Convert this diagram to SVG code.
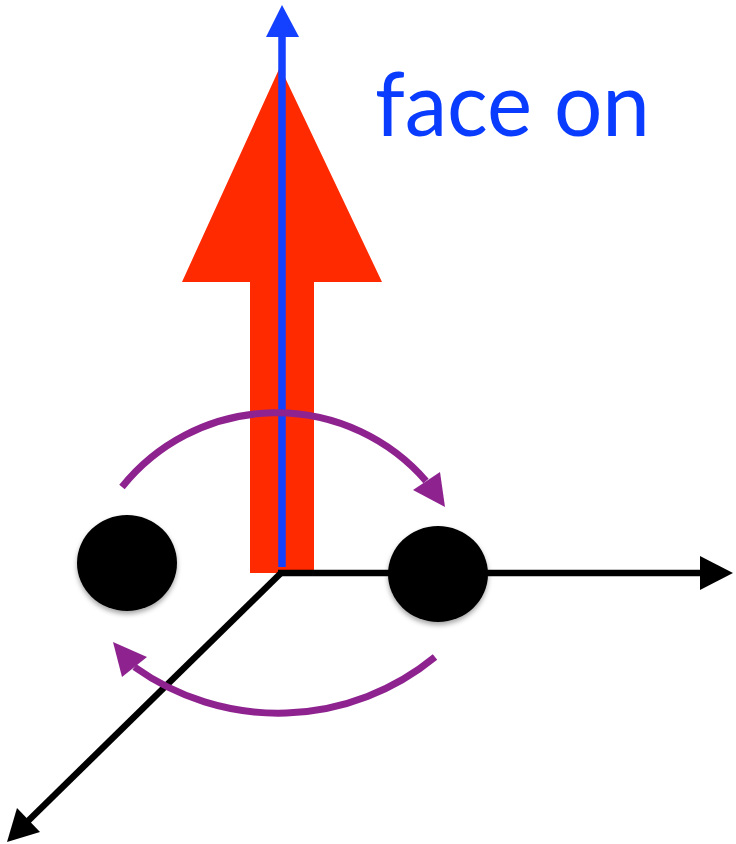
<svg xmlns="http://www.w3.org/2000/svg" width="736" height="844" viewBox="0 0 736 844">
  <style>
    .axis { stroke: #000; stroke-width: 6.5; fill: none; }
    .axis-head { fill: #000; }
    .spin { stroke: #8E2390; stroke-width: 7; fill: none; }
    .spin-head { fill: #8E2390; }
    .body { fill: #000; filter: url(#shadow); }
    .label { font-family: Lato, "Open Sans", "Liberation Sans", sans-serif; font-size: 90px; fill: #0A3CFF; }
  </style>
  <defs>
    <filter id="shadow" x="-20%" y="-20%" width="140%" height="150%">
      <feDropShadow dx="0" dy="3" stdDeviation="2.5" flood-color="#000" flood-opacity="0.35"/>
    </filter>
  </defs>

  <rect width="736" height="844" fill="#fff"/>

  <!-- angular momentum vector (thick red arrow) -->
  <g id="momentum">
    <polygon points="280,67 382,282 314,282 314,573 250,573 250,282 182,282" fill="#FF2A00"/>
  </g>

  <g id="connectors">
    <!-- coordinate axes -->
    <line class="axis" x1="278" y1="573" x2="702" y2="573"/>
    <polygon class="axis-head" points="733,573 700,556 700,590"/>
    <line class="axis" x1="281" y1="573" x2="27" y2="822"/>
    <polygon class="axis-head" points="7,842 40,832 17,808"/>

    <!-- line of sight (blue) -->
    <line x1="282" y1="567" x2="282" y2="34" stroke="#1440FF" stroke-width="7.5"/>
    <polygon points="282,5 266,37 299,37" fill="#1440FF"/>

    <!-- orbital motion -->
    <path class="spin" d="M122,487 A198,198 0 0 1 426,481"/>
    <polygon class="spin-head" points="445,507 413,490 440,472"/>
    <path class="spin" d="M435,657 A247,247 0 0 1 134.5,667"/>
    <polygon class="spin-head" points="113,642 122,677 147,657"/>
  </g>

  <g id="star-left">
    <ellipse class="body" cx="127" cy="563" rx="50" ry="48"/>
  </g>
  <g id="star-right">
    <ellipse class="body" cx="438" cy="574" rx="50" ry="48"/>
  </g>

  <g id="label">
    <text class="label" x="375" y="136" textLength="275" lengthAdjust="spacingAndGlyphs">face on</text>
  </g>
</svg>
